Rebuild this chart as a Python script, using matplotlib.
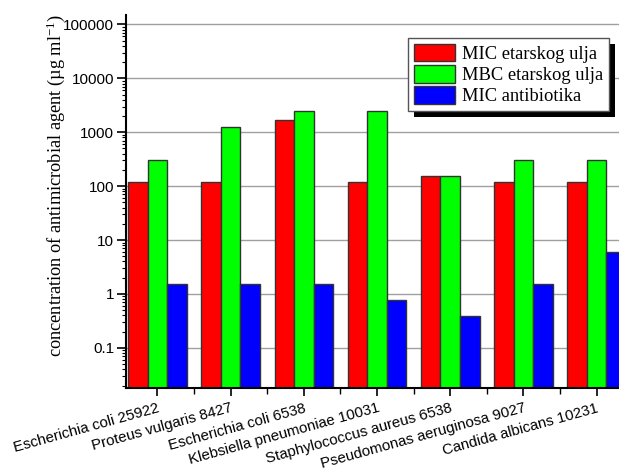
import matplotlib
matplotlib.use('Agg')
import matplotlib.pyplot as plt
import matplotlib.patheffects as pe
import numpy as np

plt.rcParams['mathtext.fontset'] = 'custom'
plt.rcParams['mathtext.rm'] = 'Liberation Serif'
plt.rcParams['mathtext.it'] = 'Liberation Serif:italic'

strains = ['Escherichia coli 25922', 'Proteus vulgaris 8427', 'Escherichia coli 6538',
           'Klebsiella pneumoniae 10031', 'Staphylococcus aureus 6538',
           'Pseudomonas aeruginosa 9027', 'Candida albicans 10231']
mic_oil = [120, 120, 1720, 120, 156, 120, 120]
mbc_oil = [312, 1250, 2500, 2500, 156, 312, 312]
mic_ab = [1.56, 1.56, 1.56, 0.78, 0.39, 1.56, 6.1]
labels = ['MIC etarskog ulja', 'MBC etarskog ulja', 'MIC antibiotika']
colors = ['#ff0000', '#00ff00', '#0000ff']

fig = plt.figure(figsize=(6.19, 4.68), dpi=100)
ax = fig.add_axes([0.2036, 0.171, 0.811, 0.797])

x = np.arange(len(strains))
w = 0.267
for i, vals in enumerate([mic_oil, mbc_oil, mic_ab]):
    ax.bar(x + (i - 1) * w, vals, width=w, color=colors[i], edgecolor='#333333',
           linewidth=1.0, label=labels[i], zorder=3)

ax.set_yscale('log')
ax.set_ylim(0.018, 1.5e5)
ax.set_xlim(-0.43, 6.43)
ax.set_yticks([0.1, 1, 10, 100, 1000, 10000, 100000])
ax.set_yticklabels(['0.1', '1', '10', '100', '1000', '10000', '100000'],
                   fontfamily='Liberation Sans', fontsize=11)
ax.yaxis.grid(True, which='major', color='#a0a0a0', linewidth=1.0, zorder=0)
ax.tick_params(axis='y', which='major', direction='out', length=6.5, width=1.2, pad=2)
ax.tick_params(axis='y', which='minor', direction='out', length=3, width=0.8)

ax.set_xticks(x)
ax.set_xticks(x[:-1] + 0.5, minor=True)
ax.set_xticklabels(strains, rotation=15.5, ha='right', rotation_mode='anchor',
                   fontfamily='Liberation Sans', fontsize=10.8)
ax.tick_params(axis='x', which='major', direction='out', length=6, width=1.2)
ax.tick_params(axis='x', which='minor', direction='out', length=4, width=1.0)

for s in ['top', 'right']:
    ax.spines[s].set_visible(False)
for s in ['left', 'bottom']:
    ax.spines[s].set_linewidth(1.5)
    ax.spines[s].set_zorder(4)

ax.set_ylabel(r'concentration of antimicrobial agent (µg ml$^{-1}$)',
              fontfamily='Liberation Serif', fontsize=13.2)
ax.yaxis.set_label_coords(-0.117, 0.542)

leg = ax.legend(loc='upper left', bbox_to_anchor=(408 / 619, 1 - 38 / 468),
                bbox_transform=fig.transFigure, fancybox=False, framealpha=1,
                prop={'family': 'Liberation Serif', 'size': 13.3},
                handlelength=2.25, handleheight=1.1, labelspacing=0.12,
                handletextpad=0.4, borderpad=0.3, borderaxespad=0)
leg.get_frame().set_edgecolor('#555555')
leg.get_frame().set_linewidth(1.0)
leg.get_frame().set_path_effects([
    pe.SimplePatchShadow(offset=(4.5, -4.5), shadow_rgbFace='k', alpha=1.0),
    pe.Normal()])
leg.set_zorder(5)

fig.savefig('out.png', dpi=100)
